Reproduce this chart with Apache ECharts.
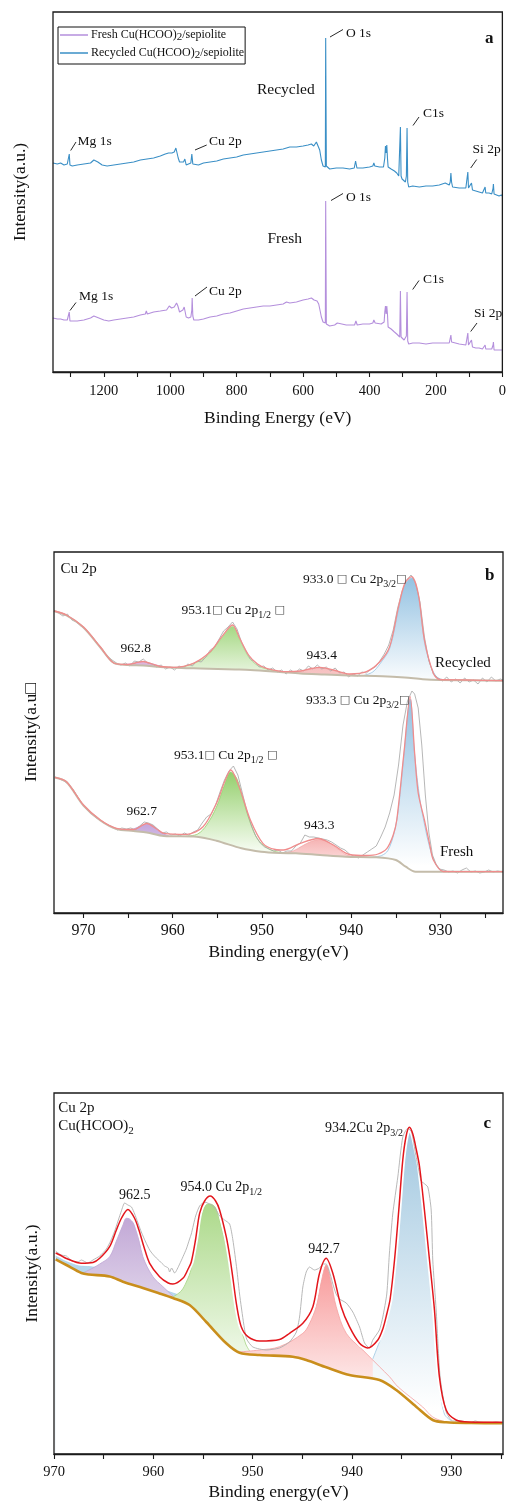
<!DOCTYPE html>
<html><head><meta charset="utf-8">
<script src="https://cdn.jsdelivr.net/npm/echarts@6/dist/echarts.min.js"></script>
<style>html,body{margin:0;padding:0;background:#fff}#chart{width:509px;height:1503px}</style>
</head><body><div id="chart"></div>
<script>
// ---------------- DATA ----------------
// Panel a: XPS survey, [binding energy (eV), intensity (a.u.)]
const surveyRecycled = [[1353,209],[1340,208],[1330,209],[1320,207],[1310,208],[1306,207],[1304,218],[1302,207],[1295,206],[1280,207],[1260,208],[1240,209],[1230,212],[1225,213],[1218,210],[1205,207],[1190,206],[1170,207],[1150,208],[1130,209],[1110,210],[1090,212],[1070,213],[1050,214],[1030,216],[1015,218],[1005,219],[995,219],[988,220],[983,224],[980,223],[976,214],[972,210],[966,208],[960,210],[956,213],[952,207],[945,208],[938,209],[935,218],[932,208],[928,206],[915,207],[900,209],[880,210],[860,211],[840,213],[820,214],[800,215],[780,217],[760,218],[740,219],[720,220],[700,221],[680,222],[660,223],[640,225],[620,225],[600,226],[585,227],[575,228],[568,226],[560,230],[555,229],[550,222],[545,212],[540,206],[535,204],[533,205],[532,334],[530,206],[527,204],[520,203],[500,204],[480,204],[460,203],[446,204],[442,211],[438,204],[420,204],[400,205],[390,206],[387,209],[384,206],[370,205],[358,205],[354,214],[352,226],[350,219],[348,227],[346,214],[344,205],[335,203],[325,201],[318,199],[312,196],[309,197],[307,245],[305,196],[302,193],[298,192],[292,190],[289,196],[287,244],[285,190],[282,185],[270,186],[250,185],[230,186],[210,186],[190,187],[172,189],[160,187],[157,190],[155,199],[153,190],[150,185],[130,184],[110,184],[106,184],[104,200],[102,184],[97,183],[93,189],[90,182],[80,181],[70,180],[60,179],[54,180],[52,185],[50,179],[40,179],[32,178],[28,184],[27,188],[25,178],[20,177],[10,176],[3,177],[0,176]];
const surveyFresh = [[1353,54],[1340,53],[1330,53],[1320,52],[1310,52],[1306,51],[1304,60],[1302,51],[1295,51],[1280,51],[1260,52],[1240,54],[1230,56],[1224,56],[1215,54],[1200,52],[1185,51],[1170,52],[1150,53],[1130,54],[1110,55],[1090,57],[1075,58],[1072,61],[1069,58],[1050,60],[1030,61],[1011,62],[1003,66],[996,64],[988,65],[981,69],[977,66],[972,60],[967,59],[962,62],[958,65],[955,60],[952,55],[945,54],[938,55],[935,62],[934,74],[932,56],[929,52],[927,51],[915,52],[900,53],[880,55],[860,56],[840,58],[820,59],[800,61],[780,63],[760,64],[740,65],[720,66],[717,65],[700,66],[680,67],[660,68],[650,70],[640,69],[620,70],[600,72],[585,73],[575,74],[572,75],[567,72],[562,70],[558,71],[553,68],[548,60],[545,55],[540,50],[536,48],[533,49],[532,171],[530,48],[527,46],[520,46],[505,47],[497,49],[493,47],[470,47],[445,47],[441,51],[437,47],[420,48],[400,48],[390,49],[387,52],[383,49],[365,48],[356,50],[354,60],[352,66],[350,58],[348,66],[346,58],[344,45],[335,43],[325,40],[318,38],[312,36],[309,35],[307,81],[305,35],[302,33],[296,32],[290,31],[289,36],[287,80],[285,31],[282,28],[270,29],[250,29],[230,28],[210,29],[190,29],[175,29],[160,29],[157,31],[155,37],[153,30],[150,29],[130,28],[110,27],[106,27],[104,39],[102,27],[97,26],[93,32],[90,25],[80,24],[70,24],[60,23],[54,24],[52,27],[50,23],[40,23],[32,23],[28,27],[27,30],[25,22],[20,22],[10,22],[3,22],[0,22]];

// Panel b: Cu 2p, recycled (upper) and fresh (lower)
const recRaw = [[973.3,302],[972.8,300],[972.3,297],[971.8,299],[971.3,293],[970.8,291],[970.3,287],[969.8,284],[969.3,279],[968.8,274],[968.3,268],[967.8,262],[967.3,257],[966.8,253],[966.3,250],[965.8,248],[965.3,250],[964.8,247],[964.3,252],[963.8,251],[963.3,254],[962.8,250],[962.3,249],[961.8,246],[961.3,248],[960.8,244],[960.3,246],[959.8,243],[959.3,247],[958.8,245],[958.3,249],[957.8,247],[957.3,252],[956.8,251],[956.3,256],[955.8,263],[955.3,266],[954.8,274],[954.3,282],[953.8,286],[953.3,291],[952.8,284],[952.3,271],[951.8,262],[951.3,254],[950.8,251],[950.3,246],[949.8,247],[949.3,243],[948.8,245],[948.3,241],[947.8,243],[947.3,239],[946.8,243],[946.3,240],[945.8,244],[945.3,242],[944.8,247],[944.3,244],[943.8,248],[943.3,244],[942.8,246],[942.3,242],[941.8,245],[941.3,240],[940.8,241],[940.3,236],[939.8,239],[939.3,237],[938.8,241],[938.3,240],[937.8,244],[937.3,246],[936.8,252],[936.3,259],[935.8,268],[935.3,283],[934.8,305],[934.3,322],[933.8,333],[933.3,338],[932.8,330],[932.3,311],[931.8,276],[931.3,252],[930.8,239],[930.3,235],[929.8,232],[929.3,236],[928.8,231],[928.3,234],[927.8,230],[927.3,235],[926.8,231],[926.3,233],[925.8,229],[925.3,235],[924.8,231],[924.3,236],[923.8,232],[923.3,234],[923,233]];
const recEnv = [[973.3,302],[971.9,298],[970,286],[968.1,266],[966.6,250],[965.1,248.5],[964.2,250],[963.3,251.5],[962.3,249],[961.4,246.5],[959.9,245.7],[957.7,249.7],[955.8,261.3],[954.5,276.3],[953.3,288],[952.5,274.7],[951.5,258],[950.5,249],[949.5,244.7],[947.2,241.3],[945.7,242],[944.5,244.5],[943.5,245.7],[942,243],[940.2,239],[938.3,241.3],[936.8,251.3],[935.7,266.3],[934.7,306.3],[934,329.7],[933.25,336.3],[932.5,319.7],[931.8,273],[930.8,239.7],[930.1,233.5],[927.1,233],[923,232.3]];
const recBg = [[973.3,302],[971.9,297.5],[970,285.5],[968.1,265.5],[966.6,250],[965.1,248],[963.3,247.5],[961.4,246],[959,245],[956.9,244.5],[953,243.5],[951.3,243],[948,241],[945.7,239.5],[943,238.5],[940.2,237.5],[936.5,236.8],[934,235.5],[932,233.8],[930.1,233],[927,232.8],[923,232.3]];
const recPeak963 = [[965.6,248.2],[964.6,249.5],[963.3,251.2],[962.2,249],[961.2,246.2]];
const recPeak953 = [[959.5,245],[958,248.5],[956.6,254],[955.8,260],[954.5,275],[953.3,286.5],[952.5,273],[951.5,256],[950.5,247.5],[949.5,244],[948,241.2]];
const recPeak943 = [[947.5,240.3],[946,241],[945,243],[943.5,245],[942.2,243],[941,240],[939.6,237.6]];
const recPeak933 = [[938.6,237.5],[937.6,241],[936.8,249],[935.7,264.5],[934.7,304],[934,328],[933.25,335],[932.5,318],[931.8,271],[931.2,250],[930.6,238],[930,234],[929.2,233]];

const freRaw = [[973.2,136],[972.7,134],[972.2,132],[971.7,129],[971.2,124],[970.7,117],[970.2,110],[969.7,104],[969.2,100],[968.7,96],[968.2,93],[967.7,90],[967.2,88],[966.7,86],[966.2,83],[965.7,85],[965.2,84],[964.7,85],[964.2,83],[963.7,87],[963.2,91],[962.7,90],[962.2,88],[961.7,84],[961.2,80],[960.7,81],[960.2,78],[959.7,79],[959.2,77],[958.7,80],[958.2,78],[957.7,81],[957.2,83],[956.7,90],[956.2,96],[955.7,99],[955.2,108],[954.7,121],[954.2,133],[953.7,142],[953.2,147],[952.7,138],[952.2,120],[951.7,102],[951.2,88],[950.7,77],[950.2,70],[949.7,66],[949.2,64],[948.7,62],[948.2,63],[947.7,60],[947.2,62],[946.7,62],[946.2,67],[945.7,70],[945.2,78],[944.7,76],[944.2,76],[943.7,75],[943.2,74],[942.7,73],[942.2,71],[941.7,68],[941.2,65],[940.7,63],[940.2,59],[939.7,57],[939.2,55],[938.7,58],[938.2,61],[937.7,64],[937.2,67],[936.7,76],[936.2,86],[935.7,100],[935.2,118],[934.7,148],[934.2,188],[933.7,212],[933.2,222],[932.9,219],[932.5,205],[932.1,168],[931.7,118],[931.3,80],[930.9,58],[930.5,49],[930.1,44],[929.6,43],[929.1,41],[928.6,42],[928.1,40],[927.6,43],[927.1,45],[926.6,41],[926.1,42],[925.6,40],[925.1,41],[924.6,43],[924.1,41],[923.6,42],[923,41]];
const freEnv = [[973.2,135.7],[971.9,131.3],[970,108],[968.1,93],[966.3,84.7],[964.4,83.5],[962.9,89.5],[961.8,84],[961,79.7],[958.4,78.7],[956.6,86.3],[955.1,109.7],[954.2,131],[953.5,143],[952.5,124.7],[951.3,93],[949.9,69.7],[948.5,63.5],[947.6,63],[945.7,69.7],[943.7,74.5],[942,68],[940.2,58.5],[938.3,57.5],[937,59],[936,64.7],[935.3,78],[934.9,93],[934.1,160],[933.4,216.3],[932.9,160],[932.5,120],[931.8,93],[931.2,68],[930.8,53],[929.7,41.5],[927,41.3],[923,41.3]];
const freBg = [[973.2,135.5],[971.9,131],[970,107.5],[968.1,92.5],[966.3,84],[964.4,82],[962.9,80.5],[961,77],[957.3,76.3],[955.1,72.3],[952.3,64.7],[950.1,61.3],[948,60],[946.2,59.7],[943.5,58],[940.6,56.3],[937.2,55.7],[935,53],[933.9,46.3],[932.8,41.3],[923,41.3]];
const frePeak963 = [[965.6,82.6],[964.4,84],[963.5,87.5],[962.8,89],[962,86],[961.2,80],[960.4,77]];
const frePeak953 = [[958.5,76.8],[957.2,79],[956.2,88],[955.1,106],[954.2,128],[953.5,141],[952.8,134],[952.2,116],[951.3,90],[950.5,74],[949.5,65.5],[948.5,61.5],[947.5,60.2]];
const frePeak943 = [[947.5,60.2],[946.5,62],[945.5,67],[944.5,71.5],[943.5,73.5],[942.5,70.5],[941.5,64],[940.5,58],[939.5,56.3],[938.5,56]];
const frePeak933 = [[937.6,55.8],[936.6,57.5],[935.9,62.5],[935.2,80],[934.7,105],[934.1,158],[933.4,214],[932.9,158],[932.3,113],[931.8,89],[931.2,65],[930.6,50],[930,43],[929.2,41.4]];

// Panel c: Cu 2p of Cu(HCOO)2
const cRaw = [[969.83,203],[969.3,199],[968.75,198],[968.2,193],[967.6,192],[967.24,194],[966.6,191],[966.08,194],[965.4,198],[964.73,205],[964.3,213],[963.89,223],[963.22,243],[962.89,251],[962.56,249],[962.2,247],[961.88,240],[961.21,222],[960.77,212],[960.37,204],[960.07,200],[959.7,196],[959.37,193],[958.86,188],[958.5,186],[958.36,182],[958.16,186],[957.86,181],[957.35,190],[956.68,205],[956.35,215],[956.18,220],[955.74,238],[955.34,248],[954.84,252],[954.54,251],[954.13,249],[953.73,245],[953.33,238],[952.83,234],[952.32,230],[951.99,214],[951.6,185],[951.32,160],[950.9,130],[950.61,115],[949.98,107],[948.63,104],[947.3,106],[946.29,112],[945.6,122],[945.28,137],[944.95,167],[944.61,182],[944.28,187],[943.78,184],[943.27,186],[942.9,190],[942.6,190],[942.2,180],[941.93,170],[941.6,160],[941.26,155],[940.58,151],[939.92,142],[939.24,127],[938.74,111],[938.24,106],[937.91,114],[937.24,124],[936.9,137],[936.5,160],[936.24,200],[935.9,240],[935.39,277],[934.89,317],[934.39,325.7],[934.0,322],[933.6,300],[933.3,285],[933.05,273],[932.8,271],[932.37,267],[932.03,244],[931.87,194],[931.53,144],[931.13,77],[930.52,42],[929.86,33],[929.0,33],[928.18,31],[927.6,33],[927.2,32],[926.17,31],[925.5,32],[924.86,31]];
const cEnv = [[969.83,201],[969.4,199],[968.75,195.5],[967.24,190.7],[966.08,191.5],[965.4,195.7],[964.4,207.3],[963.72,224],[963.2,236],[962.56,244.5],[961.9,236],[961.45,224],[960.95,207.3],[960.37,190.7],[959.37,177.3],[958.5,171],[958.03,170],[957.0,176],[956.5,185],[956.18,192],[955.74,215],[955.34,240.7],[954.84,253],[954.27,258],[953.73,253],[953.33,244],[952.66,217.3],[952.28,196],[951.98,175],[951.59,147.3],[951.15,127.3],[950.48,117.3],[949.31,113],[947.3,114.5],[946.29,120.7],[944.95,130.7],[943.94,147.3],[943.27,180.7],[942.6,195.7],[941.93,180.7],[941.09,147.3],[940.26,127.3],[939.24,110.7],[938.41,106],[937.4,114],[936.9,125],[936.5,140],[936.16,155],[935.72,194],[935.29,244],[934.89,294],[934.55,318],[934.22,326.7],[933.88,320],[933.54,305],[933.21,288],[932.71,244],[932.2,194],[931.7,144],[931.2,77],[930.52,44],[929.52,34],[928.18,32],[924.86,31.7]];
const cBg = [[969.83,194.7],[968.75,189],[967.24,181],[966.5,179.5],[964.4,177.5],[963.06,172.3],[961.05,166],[959.5,161],[958.03,156],[956.35,149],[954.67,132],[952.66,110.7],[951.32,101.3],[949.31,99],[945.96,97.3],[944.61,94],[942.6,86.7],[940.26,79],[937.23,74],[935.55,64],[933.54,47.3],[931.87,34],[930.53,31.7],[928,31],[924.86,30.7]];
const cPeakBroad = [[969.83,200],[968.75,194.5],[967.24,188.5],[966.08,187],[964.4,184],[963.06,179],[961.05,172],[959.5,166],[958.03,161],[956.35,154],[954.67,137],[952.66,116],[951.32,105],[950,101.5],[949.31,100]];
const cPeak962 = [[967.1,181],[966.08,186],[965.4,190],[964.4,197.3],[963.72,213],[963.06,229],[962.72,235.7],[962.39,235],[961.71,226],[961.05,197.3],[960.04,177.3],[959.03,167.3],[958.03,158]];
const cPeak954 = [[958.03,157],[957.2,163],[956.68,172],[956.2,185],[955.5,225],[955.0,244],[954.5,250],[954.0,249],[953.5,243],[953.33,234],[952.66,207.3],[952.2,180],[951.9,160],[951.59,142],[951.15,125],[950.7,110],[950.3,103]];
const cPeak942 = [[951.4,102],[949.31,104],[947.3,107.3],[944.95,120.7],[944.3,130],[943.61,147.3],[943.1,172],[942.6,189],[942.1,172],[941.59,147.3],[940.58,120.7],[938.91,104],[937.24,87.3],[936.23,77.3],[935.35,67],[932.88,47],[931.87,37],[930.52,32],[929.5,31]];
const cPeak934 = [[937.91,95],[937.24,112],[936.6,128],[936.16,150],[935.72,188],[935.29,238],[934.89,288],[934.55,312],[934.22,323],[933.88,316],[933.54,300],[933.21,282],[932.71,238],[932.2,188],[931.7,138],[931.2,70],[930.7,40],[929.99,33]];

// Tick values / labels
const aTicks = [1300,1200,1100,1000,900,800,700,600,500,400,300,200,100,0];
const aLabels = [1200,1000,800,600,400,200,0];
const bTicks = [970,965,960,955,950,945,940,935,930,925];
const bLabels = [970,960,950,940,930];
const cTicks = [970,965,960,955,950,945,940,935,930,925];
const cLabels = [970,960,950,940,930];

const legendNames = ['Fresh Cu(HCOO)_{2}/sepiolite', 'Recycled Cu(HCOO)_{2}/sepiolite'];

// ---------------- RENDER ----------------
const FF = 'Liberation Serif, Times New Roman, serif';
const chart = echarts.init(document.getElementById('chart'), null, {renderer: 'canvas'});

function toRich(str) {
  return str.split(/(_\{[^}]*\}|□)/).filter(s => s).map(s => {
    if (s === '□') return '{b|□}';
    if (s.startsWith('_{')) return '{s|' + s.slice(2, -1) + '}';
    return '{n|' + s + '}';
  }).join('');
}
function richStyle(size, bold) {
  const lh = Math.round(size + 6);
  return {
    n: {fontSize: size, fontFamily: FF, fontWeight: bold ? 'bold' : 'normal', lineHeight: lh, fill: '#111', color: '#111'},
    s: {fontSize: Math.round(size * 0.72), fontFamily: FF, lineHeight: lh - 7, verticalAlign: 'bottom', fill: '#111', color: '#111'},
    b: {fontSize: Math.round(size * 0.78), fontFamily: 'DejaVu Sans', lineHeight: lh, fill: '#444', color: '#444'}
  };
}
function txt(x, y, str, size, bold) {
  return {type: 'text', x: x, y: y, z: 120, silent: true,
    style: {text: toRich(str), rich: richStyle(size, bold), align: 'left', verticalAlign: 'middle'}};
}
function seg(x1, y1, x2, y2) {
  return {type: 'line', z: 120, silent: true, shape: {x1, y1, x2, y2}, style: {stroke: '#111', lineWidth: 0.9}};
}

function line(name, data, gi, color, width, z, opts) {
  return Object.assign({
    name: name, type: 'line', xAxisIndex: gi, yAxisIndex: gi, data: data, symbol: 'none',
    showSymbol: false, animation: false, silent: true, z: z, smooth: false,
    lineStyle: {color: color, width: width}, itemStyle: {color: color}
  }, opts || {});
}
function grad(top, bottom, stop) {
  return new echarts.graphic.LinearGradient(0, 0, 0, 1, [
    {offset: 0, color: top}, {offset: stop, color: bottom}, {offset: 1, color: bottom}]);
}
function peak(data, gi, fillTop, fillBottom, stop, edge, z) {
  return line('', data, gi, edge, 0.8, z, {smooth: 0.35, areaStyle: {color: grad(fillTop, fillBottom, stop), opacity: 1}});
}
function bgLine(data, gi, color, width, zArea, zLine) {
  return [
    line('', data, gi, 'rgba(0,0,0,0)', 0, zArea, {smooth: 0.3, areaStyle: {color: '#ffffff', opacity: 1}}),
    line('', data, gi, color, width, zLine, {smooth: 0.3})
  ];
}

const axisCol = '#1a1a1a';
function xAx(gi, min, max, ticks, labels, name, labelSize, margin, nameGap) {
  return {
    gridIndex: gi, type: 'value', inverse: true, min: min, max: max, z: 60,
    axisLine: {show: true, onZero: false, lineStyle: {color: axisCol, width: 1.3}},
    axisTick: {show: true, inside: false, length: 5, customValues: ticks, lineStyle: {color: axisCol, width: 1.1}},
    axisLabel: {show: true, customValues: labels, fontFamily: FF, fontSize: labelSize, color: '#111', margin: margin,
      formatter: function (v) { return String(Math.round(v)); }},
    splitLine: {show: false}, minorTick: {show: false},
    name: name, nameLocation: 'middle', nameGap: nameGap,
    nameTextStyle: {fontFamily: FF, fontSize: 17.5, color: '#111'}
  };
}
function yAx(gi, max, name, gap) {
  return {
    gridIndex: gi, type: 'value', min: 0, max: max,
    axisLine: {show: false}, axisTick: {show: false}, axisLabel: {show: false}, splitLine: {show: false},
    name: name, nameLocation: 'middle', nameGap: gap,
    nameTextStyle: {fontFamily: FF, fontSize: 17.5, color: '#111'}
  };
}
const gridBase = {show: true, borderColor: axisCol, borderWidth: 1.3, backgroundColor: 'transparent', z: 50, containLabel: false};

const series = [];
// Panel a
series.push(line('fresh', surveyFresh, 0, '#b48fdc', 1.1, 5));
series.push(line('recycled', surveyRecycled, 0, '#3a8fc6', 1.1, 5));

// Panel b (recycled first, then fresh above it in z)
series.push(peak(recPeak963, 1, '#dcb4dc', '#f4e6f2', 1, '#d8a8d8', 2));
series.push(peak(recPeak953, 1, '#a6d884', '#ffffff', 0.22, '#a6d884', 2));
series.push(peak(recPeak943, 1, '#f6c0c0', '#fff4f4', 0.3, '#f2b0b0', 2));
series.push(peak(recPeak933, 1, '#94c2e2', '#ffffff', 0.32, '#94c2e2', 2));
series.push(...bgLine(recBg, 1, '#c4bcaa', 2, 3, 12));
series.push(peak(frePeak963, 1, '#c4a6dc', '#e8dcf2', 0.4, '#bca0d8', 4));
series.push(peak(frePeak953, 1, '#94cf6c', '#f4fbef', 0.55, '#94cf6c', 4));
series.push(peak(frePeak943, 1, '#f6b4b4', '#fff0f0', 0.45, '#f2a8a8', 4));
series.push(peak(frePeak933, 1, '#94c2e2', '#ffffff', 0.78, '#94c2e2', 4));
series.push(...bgLine(freBg, 1, '#c4bcaa', 2, 5, 12));
series.push(line('', recRaw, 1, '#a4a4a4', 0.8, 10));
series.push(line('', freRaw, 1, '#a4a4a4', 0.8, 10));
series.push(line('', recEnv, 1, '#f08c8c', 1.3, 13, {smooth: 0.3}));
series.push(line('', freEnv, 1, '#f08c8c', 1.3, 13, {smooth: 0.3}));

// Panel c
series.push(peak(cPeakBroad, 2, '#b4d6ec', '#cfe4f2', 1, '#a8cfe8', 2));
series.push(peak(cPeak962, 2, '#c2a8d6', '#dccfe8', 0.32, '#bfa6d4', 3));
series.push(peak(cPeak954, 2, '#acd98a', '#ecf7e4', 0.58, '#a6d484', 3));
series.push(peak(cPeak942, 2, '#f89a9a', '#fde6e6', 0.6, '#f4a0a0', 3));
series.push(peak(cPeak934, 2, '#a2c8e0', '#ffffff', 0.86, '#9cc6e2', 3));
series.push(...bgLine(cBg, 2, '#c98e1c', 2.6, 6, 12));
series.push(line('', cEnv, 2, '#ffffff', 5, 8, {smooth: 0.3}));
series.push(line('', cRaw, 2, '#b0b0b0', 0.9, 10, {smooth: 0.2}));
series.push(line('', cEnv, 2, '#e3161c', 1.5, 13, {smooth: 0.3}));

const legendRich = {
  n: {fontFamily: FF, fontSize: 12, color: '#111', lineHeight: 16},
  s: {fontFamily: FF, fontSize: 11, color: '#111', lineHeight: 9, verticalAlign: 'bottom'}
};

const graphics = [
  // Panel a annotations
  txt(485, 38.5, 'a', 17, true),
  txt(257, 89.5, 'Recycled', 15.5), txt(267.5, 238.5, 'Fresh', 15.5),
  txt(346, 33.5, 'O 1s', 13.5), txt(346, 197, 'O 1s', 13.5),
  txt(423, 113, 'C1s', 13.5), txt(423, 279.5, 'C1s', 13.5),
  txt(77.5, 141, 'Mg 1s', 13.5), txt(79, 296.5, 'Mg 1s', 13.5),
  txt(209, 141, 'Cu 2p', 13.5), txt(209, 291, 'Cu 2p', 13.5),
  txt(472.5, 149.5, 'Si 2p', 13.5), txt(474, 313.5, 'Si 2p', 13.5),
  seg(330, 37, 343, 29.5), seg(331, 200.5, 343, 193.5),
  seg(413, 125.5, 419, 117), seg(412.7, 289.5, 419, 280.5),
  seg(70.7, 150.5, 76, 142), seg(70, 310.5, 76, 302.5),
  seg(195, 150, 206.7, 145), seg(195, 296, 207, 287),
  seg(470.7, 168, 476.7, 159.5), seg(470.7, 331.5, 477, 323),
  // Panel b
  txt(485, 576, 'b', 17, true),
  txt(60.5, 569.5, 'Cu 2p', 15),
  txt(303, 579.5, '933.0 □ Cu 2p_{3/2}□', 13.5),
  txt(181.5, 610, '953.1□ Cu 2p_{1/2} □', 13.5),
  txt(120.5, 648.5, '962.8', 13.5),
  txt(306.5, 655, '943.4', 13.5),
  txt(435, 663.5, 'Recycled', 15),
  txt(306, 700, '933.3 □ Cu 2p_{3/2}□', 13.5),
  txt(174, 755, '953.1□ Cu 2p_{1/2} □', 13.5),
  txt(126.5, 811, '962.7', 13.5),
  txt(304, 825, '943.3', 13.5),
  txt(440, 852.5, 'Fresh', 15),
  // Panel c
  txt(483.5, 1123.5, 'c', 17, true),
  txt(58.3, 1108.5, 'Cu 2p', 15),
  txt(58.3, 1126.5, 'Cu(HCOO)_{2}', 15),
  txt(325, 1128, '934.2Cu 2p_{3/2}', 14),
  txt(119, 1195, '962.5', 14),
  txt(180.5, 1187.5, '954.0 Cu 2p_{1/2}', 14),
  txt(308.3, 1249.5, '942.7', 14)
];

const option = {
  backgroundColor: '#ffffff',
  animation: false,
  textStyle: {fontFamily: FF},
  grid: [
    Object.assign({left: 53, top: 12, width: 451, height: 360}, gridBase),
    Object.assign({left: 54, top: 552, width: 449, height: 361}, gridBase),
    Object.assign({left: 54, top: 1093, width: 449, height: 361}, gridBase)
  ],
  xAxis: [
    xAx(0, 0, 1353, aTicks, aLabels, 'Binding Energy (eV)', 14.5, 12, 37),
    xAx(1, 923, 973.3, bTicks, bLabels, 'Binding energy(eV)', 16, 10, 30),
    xAx(2, 924.8, 970, cTicks, cLabels, 'Binding energy(eV)', 14.5, 11, 29.5)
  ],
  yAxis: [
    yAx(0, 360, 'Intensity(a.u.)', 24),
    yAx(1, 361, 'Intensity(a.u□', 14),
    yAx(2, 361, 'Intensity(a.u.)', 13)
  ],
  legend: {
    show: true, data: ['fresh', 'recycled'], orient: 'vertical', left: 58, top: 27,
    icon: 'rect', itemWidth: 28, itemHeight: 1.5, itemGap: 4,
    padding: [2, 1, 3, 2], borderColor: '#111', borderWidth: 1, backgroundColor: '#fff', z: 80,
    selectedMode: false,
    formatter: function (n) { return toRich(n === 'fresh' ? legendNames[0] : legendNames[1]).replace(/\{b\|□\}/g, ''); },
    textStyle: {fontFamily: FF, fontSize: 12, color: '#111', padding: [0, 0, 0, -2], rich: legendRich}
  },
  series: series,
  graphic: graphics
};
chart.setOption(option);
</script></body></html>
